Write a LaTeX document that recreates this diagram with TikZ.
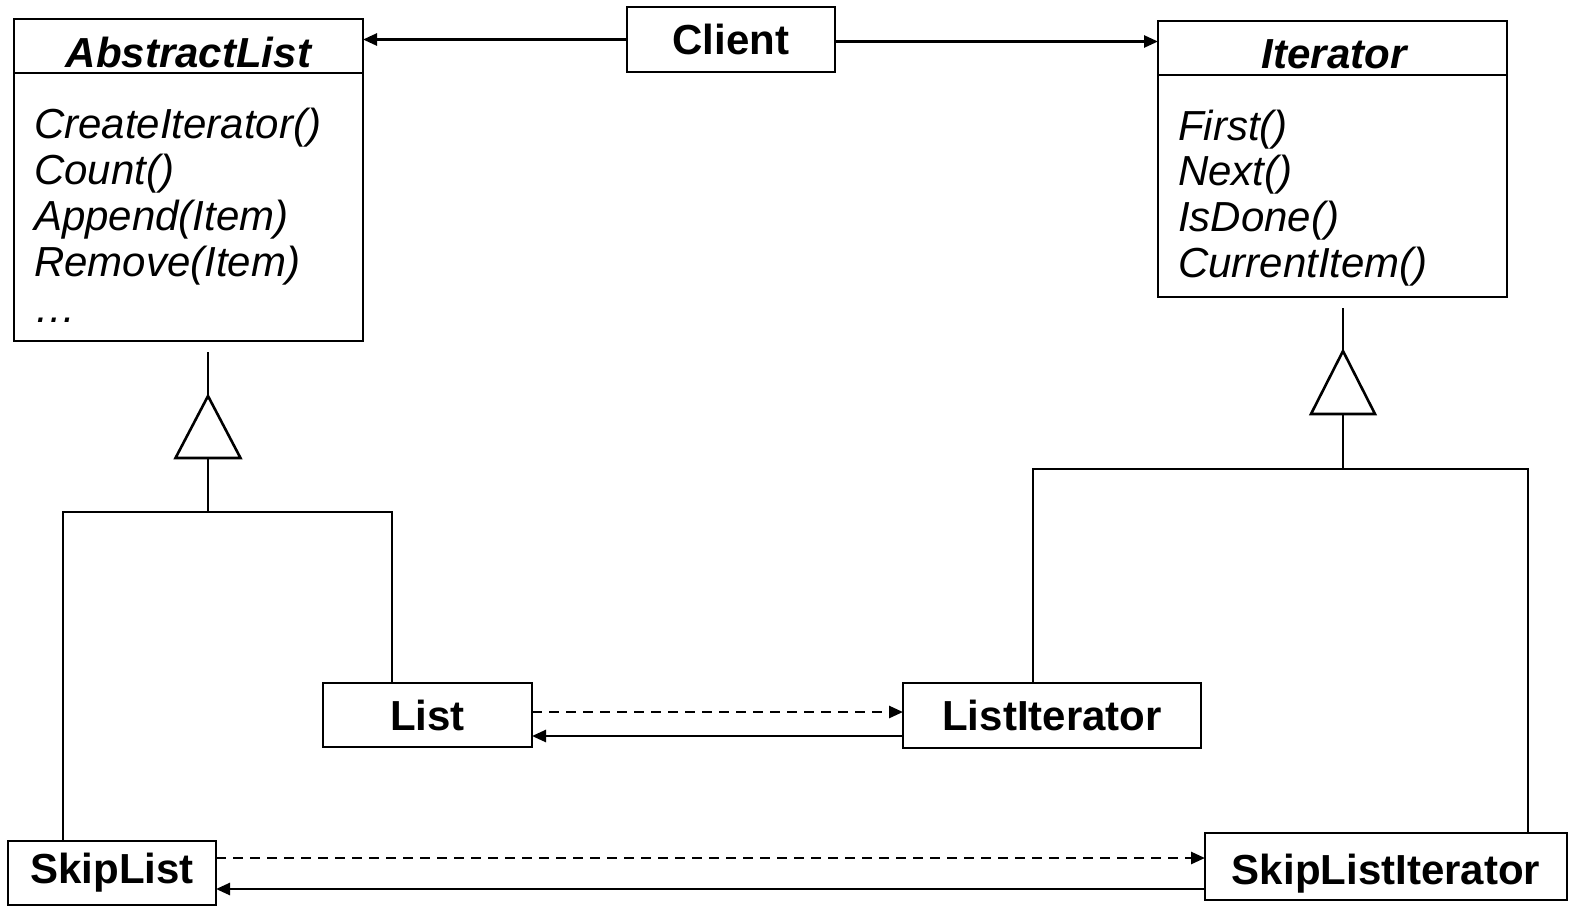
\documentclass[tikz,border=0pt]{standalone}
\usepackage{fontspec}
\setmainfont{Liberation Sans}
\usetikzlibrary{arrows.meta}
\begin{document}
\begin{tikzpicture}[x=1pt,y=-1pt,
  box/.style={draw, line width=2.6pt, inner sep=0pt, outer sep=0pt, text height=30pt, text depth=0pt},
  lbl/.style={font=\fontsize{42}{46}\selectfont\bfseries},
  title/.style={font=\fontsize{42}{46}\selectfont\bfseries\itshape, inner sep=0pt, anchor=base},
  meth/.style={font=\fontsize{42}{46}\selectfont\itshape, inner sep=0pt, anchor=base west},
  conn/.style={line width=2.6pt},
  tip/.style={-{Triangle[length=14pt,width=12pt]}},
  dep/.style={conn, dash pattern=on 10pt off 7pt}
]
\useasboundingbox (0,0) rectangle (1571,906);

% classes
\node[box, lbl, minimum width=208pt, minimum height=65pt] (client) at (731,39.5) {Client};

\node[box, minimum width=349pt, minimum height=322pt] (alist) at (188.5,180) {};
\draw[conn] (alist.west |- 0,73) -- (alist.east |- 0,73);
\node[title] (alistT) at (188.5,67) {AbstractList};
\node[meth] (a1) at (34,138) {CreateIterator()};
\node[meth] (a2) at (34,184) {Count()};
\node[meth] (a3) at (34,230) {Append(Item)};
\node[meth] (a4) at (34,276) {Remove(Item)};
\node[meth] (a5) at (34,322) {…};

\node[box, minimum width=349pt, minimum height=276pt] (iter) at (1332.5,159) {};
\draw[conn] (iter.west |- 0,75) -- (iter.east |- 0,75);
\node[title] (iterT) at (1334,68) {Iterator};
\node[meth] (i1) at (1178,140) {First()};
\node[meth] (i2) at (1178,185) {Next()};
\node[meth] (i3) at (1178,231) {IsDone()};
\node[meth] (i4) at (1178,277) {CurrentItem()};

\node[box, lbl, minimum width=209pt, minimum height=64pt] (list) at (427.5,715) {List};
\node[box, lbl, minimum width=298pt, minimum height=65pt] (litr) at (1052,715.5) {ListIterator};
\node[box, lbl, minimum width=208pt, minimum height=64pt, text depth=10pt] (slist) at (112,873) {SkipList};
\node[box, lbl, minimum width=362pt, minimum height=67pt, text height=36pt] (slitr) at (1386,866.5) {SkipListIterator};

% associations
\draw[conn, tip] (client.west) -- (client.west -| alist.east);
\draw[conn, tip] ([yshift=-2pt]client.east) -- ([yshift=-2pt]client.east -| iter.west);
\draw[dep, tip] ([yshift=3pt]list.east) -- ([yshift=3pt]list.east -| litr.west);
\draw[conn, tip] ([yshift=-21pt]list.east -| litr.west) -- ([yshift=-21pt]list.east);
\draw[dep, tip] ([yshift=15pt]slist.east) -- ([yshift=15pt]slist.east -| slitr.west);
\draw[conn, tip] ([yshift=-16pt]slist.east -| slitr.west) -- ([yshift=-16pt]slist.east);

% inheritance (left)
\coordinate (lT) at (208,352);
\coordinate (lA) at (208,396);
\coordinate (lB) at (208,458);
\coordinate (lH) at (208,512);
\draw[conn] (lT) -- (lA);
\draw[conn, line join=miter] (lA) -- (240.5,458) -- (175.5,458) -- cycle;
\draw[conn] (lB) -- (lH);
\draw[conn] (63,0 |- slist.north) -- (63,512) -- (392,512) -- (392,0 |- list.north);

% inheritance (right)
\coordinate (rT) at (1343,308);
\coordinate (rA) at (1343,351);
\coordinate (rB) at (1343,414);
\coordinate (rH) at (1343,469);
\draw[conn] (rT) -- (rA);
\draw[conn, line join=miter] (rA) -- (1375,414) -- (1311,414) -- cycle;
\draw[conn] (rB) -- (rH);
\draw[conn] (1033,0 |- litr.north) -- (1033,469) -- (1528,469) -- (1528,0 |- slitr.north);
\end{tikzpicture}
\end{document}
